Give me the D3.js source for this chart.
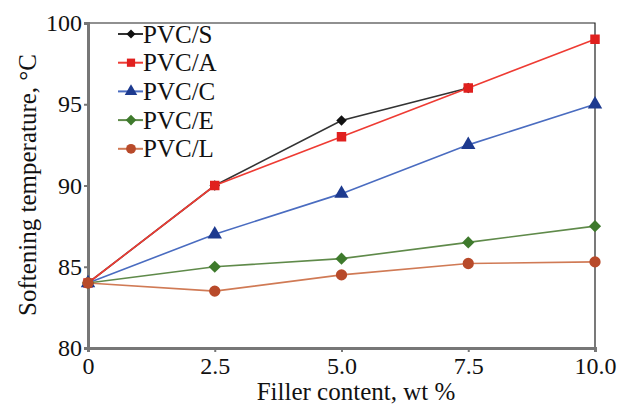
<!DOCTYPE html>
<meta charset="utf-8" />
<style>
  body { margin: 0; background: #fff; }
  text { font-family: "Liberation Serif", "DejaVu Serif", serif; fill: #111; }
</style>
<svg width="620" height="405"></svg>
<script src="https://d3js.org/d3.v7.min.js"></script>
<script>
  var svg = d3.select("svg");

  // data
  var fillerContent = [0, 2.5, 5, 7.5, 10];
  var pvcS = [84, 90, 94, 96, null];
  var pvcA = [84, 90, 93, 96, 99];
  var pvcC = [84, 87, 89.5, 92.5, 95];
  var pvcE = [84, 85, 85.5, 86.5, 87.5];
  var pvcL = [84, 83.5, 84.5, 85.2, 85.3];
  var xTicks = [0, 2.5, 5, 7.5, 10];
  var xTickLabels = ["0", "2.5", "5.0", "7.5", "10.0"];
  var yTicks = [80, 85, 90, 95, 100];

  var diamond = d3.symbolDiamond2 || d3.symbolDiamond;
  var series = [
    { name: "PVC/S", values: pvcS, line: "#333", fill: "#111", shape: diamond, size: 70 },
    { name: "PVC/A", values: pvcA, line: "#ee3b33", fill: "#e0201e", shape: d3.symbolSquare, size: 90 },
    { name: "PVC/C", values: pvcC, line: "#4a6cc0", fill: "#1d3a8f", shape: d3.symbolTriangle, size: 90 },
    { name: "PVC/E", values: pvcE, line: "#5f8a4a", fill: "#3e7a2c", shape: diamond, size: 95 },
    { name: "PVC/L", values: pvcL, line: "#d07a55", fill: "#b84a2a", shape: d3.symbolCircle, size: 100 }
  ];

  var plotL = 88, plotR = 595, plotT = 23, plotB = 348;
  var x = d3.scaleLinear().domain([0, 10]).range([plotL, plotR]);
  var y = d3.scaleLinear().domain([80, 100]).range([plotB, plotT]);

  // frame top and right
  svg.append("path")
    .attr("d", "M" + plotL + "," + plotT + "H" + plotR + "V" + plotB)
    .attr("fill", "none")
    .attr("stroke", "#222")
    .attr("stroke-width", 1.2);

  // y axis
  var yAxis = svg.append("g")
    .attr("transform", "translate(" + plotL + ",0)")
    .call(d3.axisLeft(y).tickValues(yTicks).tickSize(4).tickFormat(d3.format("d")));
  yAxis.select(".domain").attr("stroke", "#777").attr("stroke-width", 3);
  yAxis.selectAll(".tick line").attr("stroke", "#777").attr("stroke-width", 2);
  yAxis.selectAll(".tick text")
    .attr("font-size", 24)
    .attr("font-family", "Liberation Serif, serif")
    .attr("fill", "#111")
    .attr("x", -6);

  // x axis
  var xAxis = svg.append("g")
    .attr("transform", "translate(0," + plotB + ")")
    .call(d3.axisBottom(x).tickValues(xTicks).tickSize(4)
      .tickFormat(function(d, i) { return xTickLabels[i]; }));
  xAxis.select(".domain").attr("stroke", "#777").attr("stroke-width", 3);
  xAxis.selectAll(".tick line").attr("stroke", "#777").attr("stroke-width", 2);
  xAxis.selectAll(".tick text")
    .attr("font-size", 24)
    .attr("font-family", "Liberation Serif, serif")
    .attr("fill", "#111")
    .attr("y", 9);

  // lines
  var line = d3.line()
    .defined(function(d) { return d.v != null; })
    .x(function(d) { return x(d.x); })
    .y(function(d) { return y(d.v); });

  series.forEach(function(s) {
    var pts = fillerContent.map(function(c, i) { return { x: c, v: s.values[i] }; });
    svg.append("path")
      .datum(pts)
      .attr("d", line)
      .attr("fill", "none")
      .attr("stroke", s.line)
      .attr("stroke-width", 1.6);
  });

  // markers after all lines, in series order
  series.forEach(function(s) {
    var pts = fillerContent.map(function(c, i) { return { x: c, v: s.values[i] }; })
      .filter(function(d) { return d.v != null; });
    svg.append("g")
      .selectAll("path")
      .data(pts)
      .enter()
      .append("path")
      .attr("d", d3.symbol().type(s.shape).size(s.size))
      .attr("transform", function(d) { return "translate(" + x(d.x) + "," + y(d.v) + ")"; })
      .attr("fill", s.fill);
  });

  // legend
  var legend = svg.append("g").attr("transform", "translate(118,34)");
  var rows = legend.selectAll("g")
    .data(series)
    .enter()
    .append("g")
    .attr("transform", function(d, i) { return "translate(0," + (i * 28.7) + ")"; });
  rows.append("line")
    .attr("x1", 0).attr("x2", 25)
    .attr("stroke", function(d) { return d.line; })
    .attr("stroke-width", 2);
  rows.append("path")
    .attr("d", function(d) { return d3.symbol().type(d.shape).size(d.size * 0.75)(); })
    .attr("transform", "translate(13,0)")
    .attr("fill", function(d) { return d.fill; });
  rows.append("text")
    .attr("x", 25)
    .attr("dy", "0.34em")
    .attr("font-size", 25)
    .text(function(d) { return d.name; });

  // axis titles
  svg.append("text")
    .attr("x", 356)
    .attr("y", 400)
    .attr("text-anchor", "middle")
    .attr("font-size", 25)
    .text("Filler content, wt %");

  svg.append("text")
    .attr("transform", "translate(27,185) rotate(-90)")
    .attr("text-anchor", "middle")
    .attr("dy", "0.34em")
    .attr("font-size", 25)
    .text("Softening temperature, °C");
</script>
